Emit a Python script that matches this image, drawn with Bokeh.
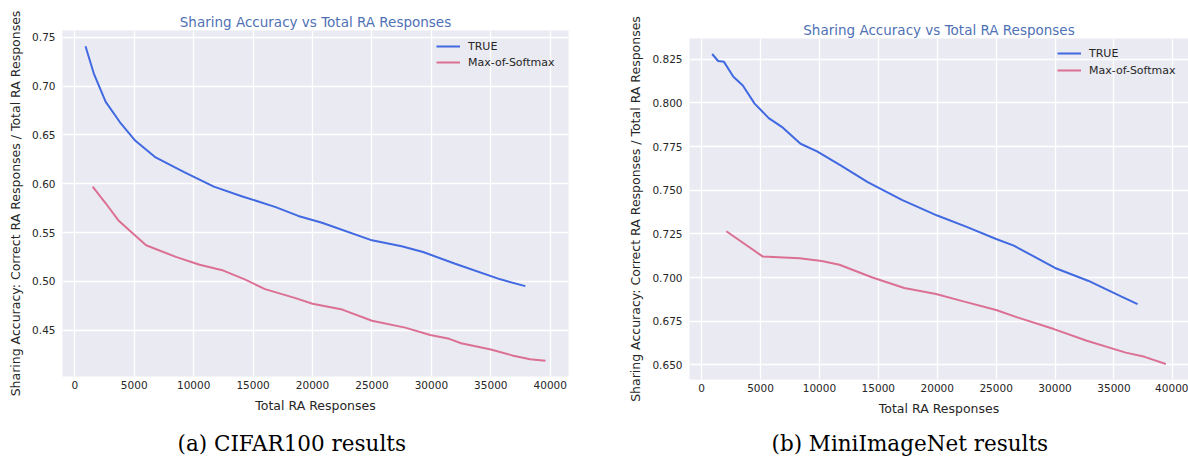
from bokeh.plotting import figure
from bokeh.layouts import row, column
from bokeh.models import Legend, LegendItem, Title, FixedTicker, PrintfTickFormatter, Range1d
from bokeh.embed import file_html
from bokeh.resources import INLINE

# ---------------- data ----------------
title_text = "Sharing Accuracy vs Total RA Responses"
x_label = "Total RA Responses"
y_label = "Sharing Accuracy: Correct RA Responses / Total RA Responses"
series_names = ["TRUE", "Max-of-Softmax"]
captions = ["(a) CIFAR100 results", "(b) MiniImageNet results"]

x_ticks = [0, 5000, 10000, 15000, 20000, 25000, 30000, 35000, 40000]
cifar_y_ticks = [0.45, 0.50, 0.55, 0.60, 0.65, 0.70, 0.75]
mini_y_ticks = [0.650, 0.675, 0.700, 0.725, 0.750, 0.775, 0.800, 0.825]

cifar_true_x = [900, 1600, 2600, 3800, 5100, 6800, 9200, 11700, 14100, 16900,
                18800, 20800, 25000, 27500, 29300, 32000, 35800, 37900]
cifar_true_y = [0.741, 0.713, 0.684, 0.663, 0.644, 0.627, 0.612, 0.597, 0.587, 0.576,
                0.567, 0.560, 0.542, 0.536, 0.530, 0.518, 0.502, 0.495]
cifar_mos_x = [1500, 2600, 3700, 4700, 6000, 8500, 10500, 12500, 14300, 16000, 18500,
               20000, 22500, 25000, 27800, 29900, 31500, 32500, 35000, 36800, 38300, 39600]
cifar_mos_y = [0.597, 0.580, 0.562, 0.551, 0.537, 0.525, 0.517, 0.511, 0.502, 0.492, 0.483,
               0.477, 0.471, 0.4595, 0.4525, 0.445, 0.441, 0.4365, 0.430, 0.424, 0.420, 0.4185]

mini_true_x = [900, 1400, 1900, 2700, 3500, 4500, 5700, 6900, 8400, 9800, 11800,
               14100, 17000, 20000, 22500, 25000, 26500, 30000, 32800, 35600, 37000]
mini_true_y = [0.828, 0.824, 0.8235, 0.815, 0.810, 0.7996, 0.7913, 0.7858, 0.7766, 0.7722, 0.7642,
               0.7546, 0.7445, 0.7355, 0.729, 0.7221, 0.7183, 0.7055, 0.6982, 0.6892, 0.6848]
mini_mos_x = [2100, 5200, 8300, 10200, 11700, 14500, 17200, 19900, 22300, 25000,
              26800, 29900, 32700, 36000, 37600, 39400]
mini_mos_y = [0.7265, 0.712, 0.711, 0.7095, 0.7073, 0.700, 0.694, 0.6906, 0.6862, 0.6814,
              0.6772, 0.6705, 0.6638, 0.657, 0.6546, 0.6505]

# ---------------- style ----------------
BLUE = "#4169e1"
PINK = "#db7093"
BG = "#eaeaf2"
TXT = "#262626"
TITLE_COLOR = "#4f71b5"


def padded(vals_a, vals_b, frac=0.05):
    lo = min(min(vals_a), min(vals_b))
    hi = max(max(vals_a), max(vals_b))
    pad = (hi - lo) * frac
    return lo - pad, hi + pad


def panel(tx, ty, mx, my, yticks, yfmt, width, borders, legend_loc, legend_spacing,
          caption, cap_offset, spacer_standoff):
    xlo, xhi = padded(tx, mx)
    ylo, yhi = padded(ty, my)
    bl, br, bt, bb = borders
    p = figure(width=width, height=458, output_backend="svg", toolbar_location=None,
               x_range=Range1d(xlo, xhi), y_range=Range1d(ylo, yhi),
               min_border_left=bl, min_border_right=br, min_border_top=bt, min_border_bottom=bb,
               background_fill_color=BG, border_fill_color="white", outline_line_color=None)
    p.title.text = title_text
    p.title.align = "center"
    p.title.text_font = "DejaVu Sans"
    p.title.text_font_size = "13.5px"
    p.title.text_font_style = "normal"
    p.title.text_color = TITLE_COLOR
    p.title.standoff = 2

    for ax in (p.xaxis[0], p.yaxis[0]):
        ax.axis_line_color = None
        ax.major_tick_line_color = None
        ax.minor_tick_line_color = None
        ax.major_tick_out = 0
        ax.major_tick_in = 0
        ax.major_label_text_font = "DejaVu Sans"
        ax.major_label_text_font_size = "10.5px"
        ax.major_label_text_color = TXT
        ax.axis_label_text_font = "DejaVu Sans"
        ax.axis_label_text_font_size = "12.5px"
        ax.axis_label_text_font_style = "normal"
        ax.axis_label_text_color = TXT
        ax.axis_label_standoff = 6
    p.xaxis[0].ticker = FixedTicker(ticks=x_ticks)
    p.xaxis[0].formatter = PrintfTickFormatter(format="%d")
    p.xaxis[0].major_label_standoff = 4
    p.xaxis[0].axis_label = x_label
    p.yaxis[0].ticker = FixedTicker(ticks=yticks)
    p.yaxis[0].formatter = PrintfTickFormatter(format=yfmt)
    p.yaxis[0].major_label_standoff = 7
    p.yaxis[0].axis_label = y_label

    p.xgrid.ticker = FixedTicker(ticks=x_ticks)
    p.ygrid.ticker = FixedTicker(ticks=yticks)
    for g in (p.xgrid[0], p.ygrid[0]):
        g.grid_line_color = "white"
        g.grid_line_width = 1.3

    r1 = p.line(tx, ty, line_color=BLUE, line_width=2)
    r2 = p.line(mx, my, line_color=PINK, line_width=2)

    leg = Legend(items=[LegendItem(label=series_names[0], renderers=[r1]),
                        LegendItem(label=series_names[1], renderers=[r2])],
                 location=legend_loc, padding=0, margin=0, spacing=legend_spacing,
                 glyph_width=24, glyph_height=16, label_height=16, label_standoff=8,
                 label_text_font="DejaVu Sans", label_text_font_size="11px",
                 label_text_color=TXT, border_line_color=None, background_fill_alpha=0)
    p.add_layout(leg)

    spacer = Title(text=" ", standoff=spacer_standoff, text_font_size="1px",
                   text_color="white")
    p.add_layout(spacer, "below")
    cap = Title(text=caption, align="left", offset=cap_offset, vertical_align="bottom",
                standoff=6, text_font="DejaVu Serif", text_font_size="21.5px",
                text_font_style="normal", text_color="black")
    p.add_layout(cap, "below")
    return p


p1 = panel(cifar_true_x, cifar_true_y, cifar_mos_x, cifar_mos_y, cifar_y_ticks, "%.2f",
           600, (62, 32, 30, 82), (374, 306), 0, captions[0], 115, 7)
p2 = panel(mini_true_x, mini_true_y, mini_mos_x, mini_mos_y, mini_y_ticks, "%.3f",
           588, (89, 0, 38, 79), (368, 301), 1, captions[1], 82, 4)

layout = row(column(p1), column(p2))
open("out.html", "w").write(file_html(layout, INLINE))
